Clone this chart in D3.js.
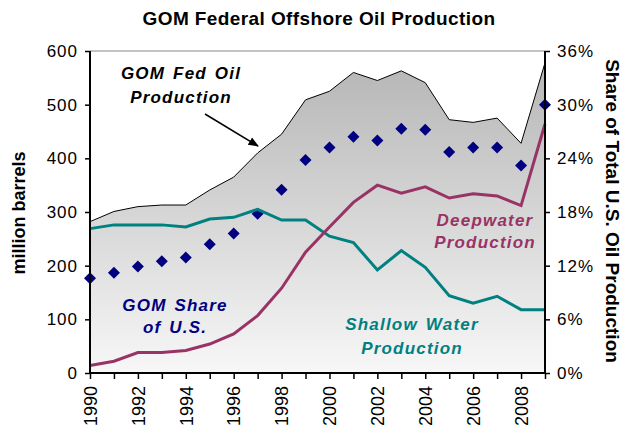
<!DOCTYPE html>
<html>
<head>
<meta charset="utf-8">
<script src="https://cdn.jsdelivr.net/npm/d3@7"></script>
<style>
  body { margin: 0; background: #fff; }
  text { font-family: "Liberation Sans", Arial, sans-serif; }
</style>
</head>
<body>
<svg id="chart" width="622" height="428"></svg>
<script>
// data
const years = d3.range(1990, 2010);
const totalProd   = [282, 301, 310, 313, 313, 341, 365, 410, 445, 509, 525, 560, 545, 563, 541, 472, 467, 475, 428, 578];
const shallowProd = [269, 276, 276, 276, 272, 287, 290, 305, 285, 285, 255, 243, 192, 228, 197, 144, 130, 143, 118, 118];
const deepProd    = [14, 22, 38, 38, 42, 54, 73, 107, 158, 225, 272, 318, 350, 335, 347, 326, 334, 330, 312, 464];
const gomShare    = [10.6, 11.2, 11.9, 12.5, 12.9, 14.4, 15.6, 17.8, 20.5, 23.8, 25.2, 26.4, 26.0, 27.3, 27.2, 24.7, 25.2, 25.2, 23.2, 30.0];
const leftTicks = [0, 100, 200, 300, 400, 500, 600];
const rightTicks = [0, 6, 12, 18, 24, 30, 36];
const yearLabels = d3.range(1990, 2010, 2);

const svg = d3.select('#chart');
const plotL = 90, plotR = 545, plotT = 51, plotB = 373;

const x = d3.scaleLinear().domain([1990, 2009]).range([plotL, plotR]);
const y = d3.scaleLinear().domain([0, 600]).range([plotB, plotT]);
const y2 = d3.scaleLinear().domain([0, 36]).range([plotB, plotT]);

// gradient for the total area
const defs = svg.append('defs');
const grad = defs.append('linearGradient').attr('id', 'grayFill')
    .attr('x1', 0).attr('y1', 0).attr('x2', 0).attr('y2', 1);
grad.append('stop').attr('offset', '0%').attr('stop-color', '#b6b6b6');
grad.append('stop').attr('offset', '100%').attr('stop-color', '#f7f7f7');

// top border
svg.append('line').attr('x1', plotL).attr('x2', plotR).attr('y1', plotT).attr('y2', plotT)
    .attr('stroke', '#888').attr('stroke-width', 1);

// total area
const area = d3.area().x((d, i) => x(years[i])).y0(y(0)).y1(d => y(d));
const line = d3.line().x((d, i) => x(years[i])).y(d => y(d));

svg.append('path').datum(totalProd)
    .attr('d', area)
    .attr('fill', 'url(#grayFill)')
    .attr('stroke', 'none');
svg.append('path').datum(totalProd)
    .attr('d', line)
    .attr('fill', 'none')
    .attr('stroke', '#000')
    .attr('stroke-width', 1);

// share diamonds (square excel-style diamond)
const squareDiamond = {
    draw(ctx, size) {
        const r = Math.sqrt(size / 2);
        ctx.moveTo(0, -r); ctx.lineTo(r, 0); ctx.lineTo(0, r); ctx.lineTo(-r, 0); ctx.closePath();
    }
};
svg.append('g').selectAll('path').data(gomShare).join('path')
    .attr('d', d3.symbol().type(squareDiamond).size(72))
    .attr('transform', (d, i) => `translate(${x(years[i])},${y2(d)})`)
    .attr('fill', '#000080');

// shallow and deep lines
svg.append('path').datum(shallowProd)
    .attr('d', line).attr('fill', 'none')
    .attr('stroke', '#008080').attr('stroke-width', 3);
svg.append('path').datum(deepProd)
    .attr('d', line).attr('fill', 'none')
    .attr('stroke', '#993366').attr('stroke-width', 3);

// axes
const axL = svg.append('g').attr('transform', `translate(${plotL},0)`)
    .call(d3.axisLeft(y).tickValues(leftTicks).tickSize(5).tickPadding(7));
const axR = svg.append('g').attr('transform', `translate(${plotR},0)`)
    .call(d3.axisRight(y2).tickValues(rightTicks).tickSize(5).tickPadding(7).tickFormat(d => d + '%'));
const axB = svg.append('g').attr('transform', `translate(0,${plotB})`)
    .call(d3.axisBottom(x).tickValues(years).tickSize(6).tickFormat(d => yearLabels.includes(d) ? d : ''));

[axL, axR, axB].forEach(g => {
    g.select('.domain').attr('stroke', '#000').attr('stroke-width', 2);
    g.selectAll('.tick line').attr('stroke', '#000').attr('stroke-width', 1.5);
    g.selectAll('text').attr('font-size', 17).attr('fill', '#000')
        .style('font-family', '"Liberation Sans", Arial, sans-serif');
});
axL.selectAll('text').style('letter-spacing', '1px');
axR.selectAll('text').style('letter-spacing', '1px');
axL.select('.domain').attr('d', `M0,${plotB}V${plotT}`);
axR.select('.domain').attr('d', `M0,${plotB}V${plotT}`);
axB.select('.domain').attr('d', `M${plotL},0H${plotR}`);

axB.selectAll('.tick text')
    .attr('font-size', 18)
    .attr('transform', 'rotate(-90)')
    .attr('text-anchor', 'end')
    .attr('dy', '0.35em')
    .attr('x', -13)
    .attr('y', 0);

// titles
svg.append('text').attr('x', 319).attr('y', 25)
    .attr('text-anchor', 'middle').attr('font-size', 19).attr('font-weight', 'bold')
    .style('letter-spacing', '0.4px')
    .text('GOM Federal Offshore Oil Production');

svg.append('text').attr('transform', `translate(25,213) rotate(-90)`)
    .attr('text-anchor', 'middle').attr('font-size', 18).attr('font-weight', 'bold')
    .text('million barrels');

svg.append('text').attr('transform', `translate(606,211) rotate(90)`)
    .attr('text-anchor', 'middle').attr('font-size', 19).attr('font-weight', 'bold')
    .text('Share of Total U.S. Oil Production');

// annotations
function label(lines, cx, cy, gap, color) {
    const t = svg.append('text').attr('text-anchor', 'middle')
        .attr('font-size', 17).attr('font-weight', 'bold').attr('font-style', 'italic')
        .style('letter-spacing', '1.2px').style('word-spacing', '2px')
        .attr('fill', color);
    lines.forEach((s, i) => {
        t.append('tspan').attr('x', cx).attr('y', cy + i * gap).text(s);
    });
}
label(['GOM Fed Oil', 'Production'], 181, 79, 24, '#000');
label(['GOM Share', 'of U.S.'], 175, 311, 22, '#000080');
label(['Shallow Water', 'Production'], 412, 330, 24, '#008080');
label(['Deepwater', 'Production'], 485, 226, 22, '#993366');

// arrow to the total line
defs.append('marker').attr('id', 'arrow')
    .attr('viewBox', '0 0 10 10').attr('refX', 9).attr('refY', 5)
    .attr('markerWidth', 7).attr('markerHeight', 7).attr('orient', 'auto')
    .append('path').attr('d', 'M0,1L10,5L0,9Z').attr('fill', '#000');
svg.append('line')
    .attr('x1', 205).attr('y1', 114).attr('x2', 258).attr('y2', 146)
    .attr('stroke', '#000').attr('stroke-width', 1.5)
    .attr('marker-end', 'url(#arrow)');
</script>
</body>
</html>
